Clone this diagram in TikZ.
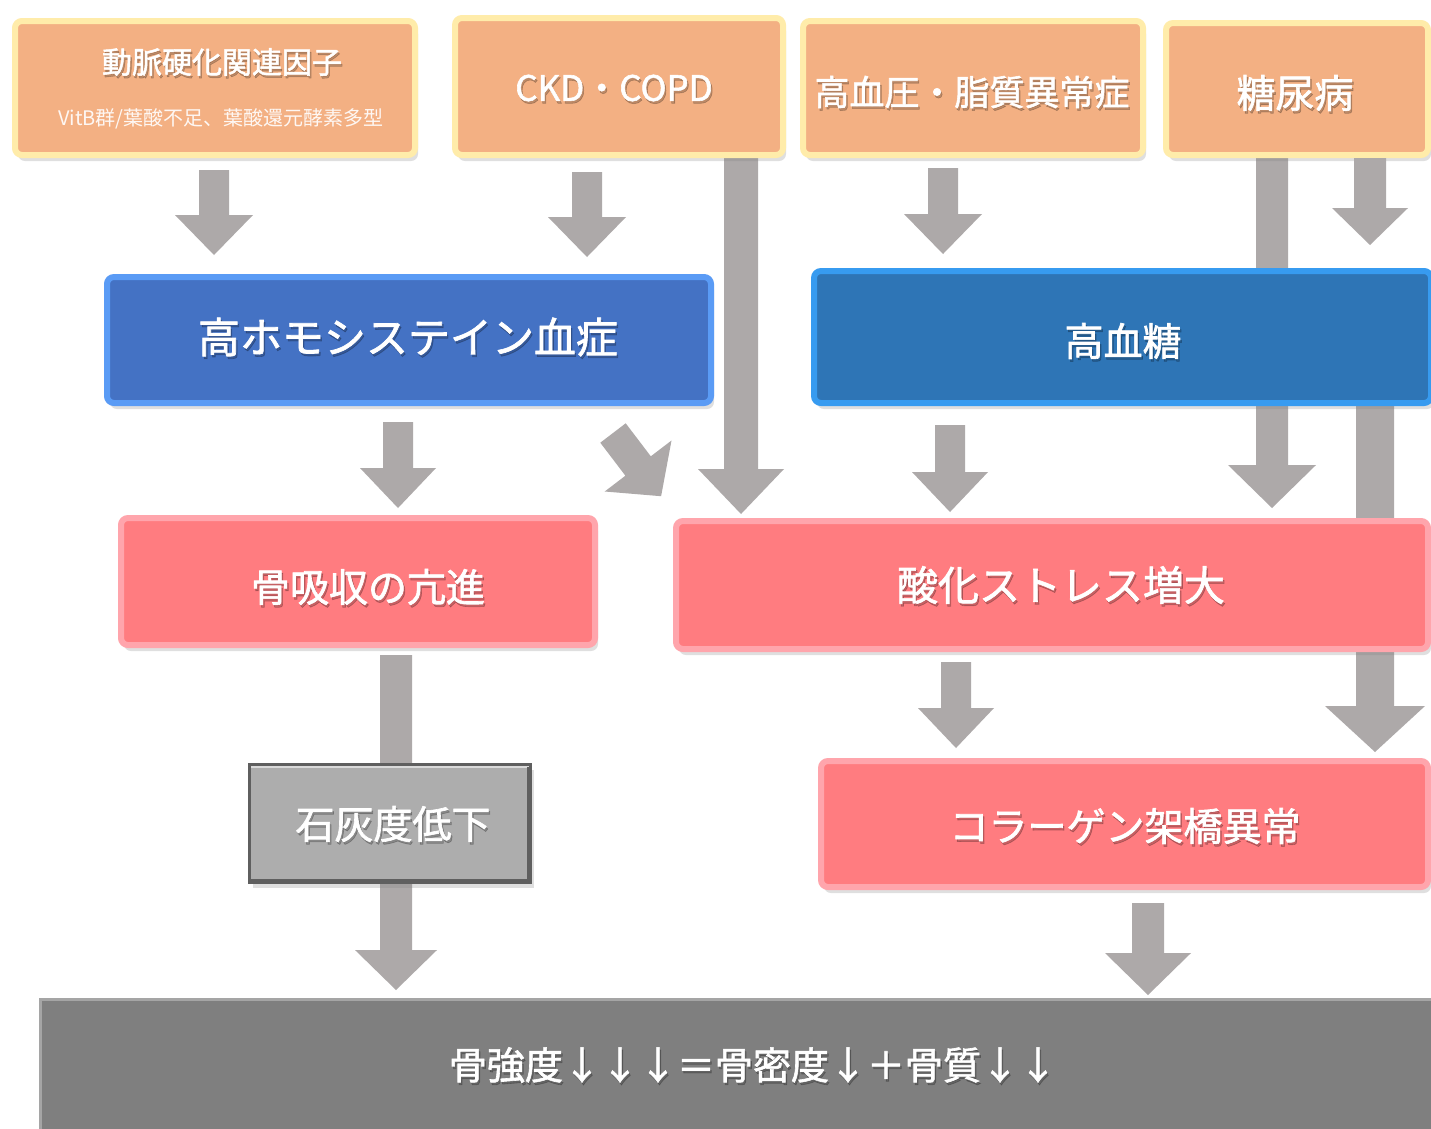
\documentclass[tikz,border=0pt]{standalone}
\usepackage{fontspec}
\setmainfont{Noto Sans CJK JP}
\newfontfamily\medfont{Noto Sans CJK JP}[FakeBold=1.6]
\usetikzlibrary{shadows,calc}
\definecolor{agray}{RGB}{173,169,169}
\definecolor{orfill}{RGB}{243,176,131}
\definecolor{orline}{RGB}{255,236,170}
\definecolor{b1fill}{RGB}{68,114,196}
\definecolor{b1line}{RGB}{90,155,245}
\definecolor{b2fill}{RGB}{46,117,182}
\definecolor{b2line}{RGB}{55,155,240}
\definecolor{pkfill}{RGB}{255,124,128}
\definecolor{pkline}{RGB}{255,165,172}
\definecolor{gyfill}{RGB}{173,173,173}
\definecolor{gyline}{RGB}{95,95,95}
\definecolor{dkfill}{RGB}{127,127,127}
\tikzset{
  basebox/.style={rectangle, rounded corners=7pt, inner sep=0pt, line width=6pt,
    drop shadow={opacity=0.25, shadow xshift=3pt, shadow yshift=-6pt}},
  orangebox/.style={basebox, fill=orfill, draw=orline},
  blueonebox/.style={basebox, fill=b1fill, draw=b1line},
  bluetwobox/.style={basebox, fill=b2fill, draw=b2line},
  pinkbox/.style={basebox, fill=pkfill, draw=pkline},
  graybox/.style={rectangle, inner sep=0pt, fill=gyfill, draw=gyline, line width=3pt,
    drop shadow={opacity=0.25, shadow xshift=3pt, shadow yshift=-5pt}},
  darkbox/.style={rectangle, inner sep=0pt, fill=dkfill, draw=dkfill!70!white, line width=3pt},
  lbl/.style={text=white, inner sep=0pt},
  lblshadow/.style={text=black, text opacity=0.22, inner sep=0pt},
}
% block arrow: cx, ytop, ytip, shaft half width, head half width, head length
\newcommand\blockarrow[6]{%
  \fill[agray] (#1-#4,#2) -- (#1+#4,#2) -- (#1+#4,#3-#6) -- (#1+#5,#3-#6) -- (#1,#3)
    -- (#1-#5,#3-#6) -- (#1-#4,#3-#6) -- cycle;}
% shadowed label: name, x, y, size, text
\newcommand\boxlabel[5]{%
  \node[lblshadow, font=\medfont\fontsize{#4}{#4}\selectfont] at (#2+1.5,#3+2.5) {#5};
  \node[lbl, font=\medfont\fontsize{#4}{#4}\selectfont] (#1) at (#2,#3) {#5};}
\begin{document}
\begin{tikzpicture}[x=1pt,y=-1pt]
\useasboundingbox (0,0) rectangle (1431,1128);
\fill[white] (0,0) rectangle (1431,1128);

% long arrows behind boxes
\blockarrow{741}{150}{514}{17}{43}{45}
\blockarrow{1272}{150}{508}{16}{44}{43}
\blockarrow{1375}{400}{752}{19}{50}{46}
\blockarrow{396}{655}{990}{16}{41}{40}

% top boxes
\node[orangebox, minimum width=400pt, minimum height=134pt] (A) at (215,88) {};
\node[orangebox, minimum width=328pt, minimum height=137pt] (B) at (619,86.5) {};
\node[orangebox, minimum width=340pt, minimum height=134pt] (C) at (973,88) {};
\node[orangebox, minimum width=262pt, minimum height=132pt] (D) at (1297,89) {};
\boxlabel{tA}{222}{62}{30}{動脈硬化関連因子}
\node[lbl, font=\fontsize{20}{24}\selectfont, text=white!90!orfill] (tA2) at (221,119) {VitB群/葉酸不足、葉酸還元酵素多型};
\boxlabel{tB}{614}{88}{35}{CKD・COPD}
\boxlabel{tC}{972}{92}{35}{高血圧・脂質異常症}
\boxlabel{tD}{1295}{93}{39}{糖尿病}

% short arrows row 1
\blockarrow{214}{170}{255}{15}{39}{40}
\blockarrow{587}{172}{257}{15}{39}{40}
\blockarrow{943}{168}{254}{15}{39}{40}
\blockarrow{1370}{158}{245}{16}{38}{37}

% blue boxes
\node[blueonebox, minimum width=604pt, minimum height=126pt] (H) at (409,340) {};
\node[bluetwobox, minimum width=617pt, minimum height=132pt] (K) at (1122.5,337) {};
\boxlabel{tH}{408}{337}{42}{高ホモシステイン血症}
\boxlabel{tK}{1123}{341}{39}{高血糖}

% arrows row 2
\blockarrow{398}{422}{508}{15}{38}{40}
\blockarrow{950}{425}{512}{15}{38}{40}
\fill[agray] (600.3,442.7) -- (625.7,423.3) -- (650.8,456.3) -- (671.5,440.5)
  -- (661.1,496.2) -- (604.7,491.5) -- (625.4,475.7) -- cycle;

% pink boxes row 3
\node[pinkbox, minimum width=474pt, minimum height=127pt] (R) at (358,581.5) {};
\node[pinkbox, minimum width=752pt, minimum height=128pt] (S) at (1052,585) {};
\boxlabel{tR}{368}{587}{39}{骨吸収の亢進}
\boxlabel{tS}{1061}{585}{41}{酸化ストレス増大}

% arrows row 3
\blockarrow{956}{662}{748}{15}{38}{40}

% row 4
\node[graybox, minimum width=281pt, minimum height=118pt] (G) at (390,823.5) {};
\draw[white!55!gyfill, line width=2pt] ($(G.north west)+(3,4)$) -- ($(G.north east)+(-3,4)$);
\draw[black!45!gyfill, line width=2pt] ($(G.south west)+(3,-4)$) -- ($(G.south east)+(-4,-4)$) -- ($(G.north east)+(-4,4)$);
\node[pinkbox, minimum width=607pt, minimum height=126pt] (L) at (1124.5,824) {};
\boxlabel{tG}{393}{824}{39}{石灰度低下}
\boxlabel{tL}{1125}{826}{39}{コラーゲン架橋異常}

\blockarrow{1148}{903}{995}{16}{43}{42}

% bottom
\node[darkbox, minimum width=1400pt, minimum height=134pt] (Z) at (740,1066) {};
\boxlabel{tZ}{753}{1065}{38}{骨強度↓↓↓＝骨密度↓＋骨質↓↓}
\end{tikzpicture}
\end{document}
